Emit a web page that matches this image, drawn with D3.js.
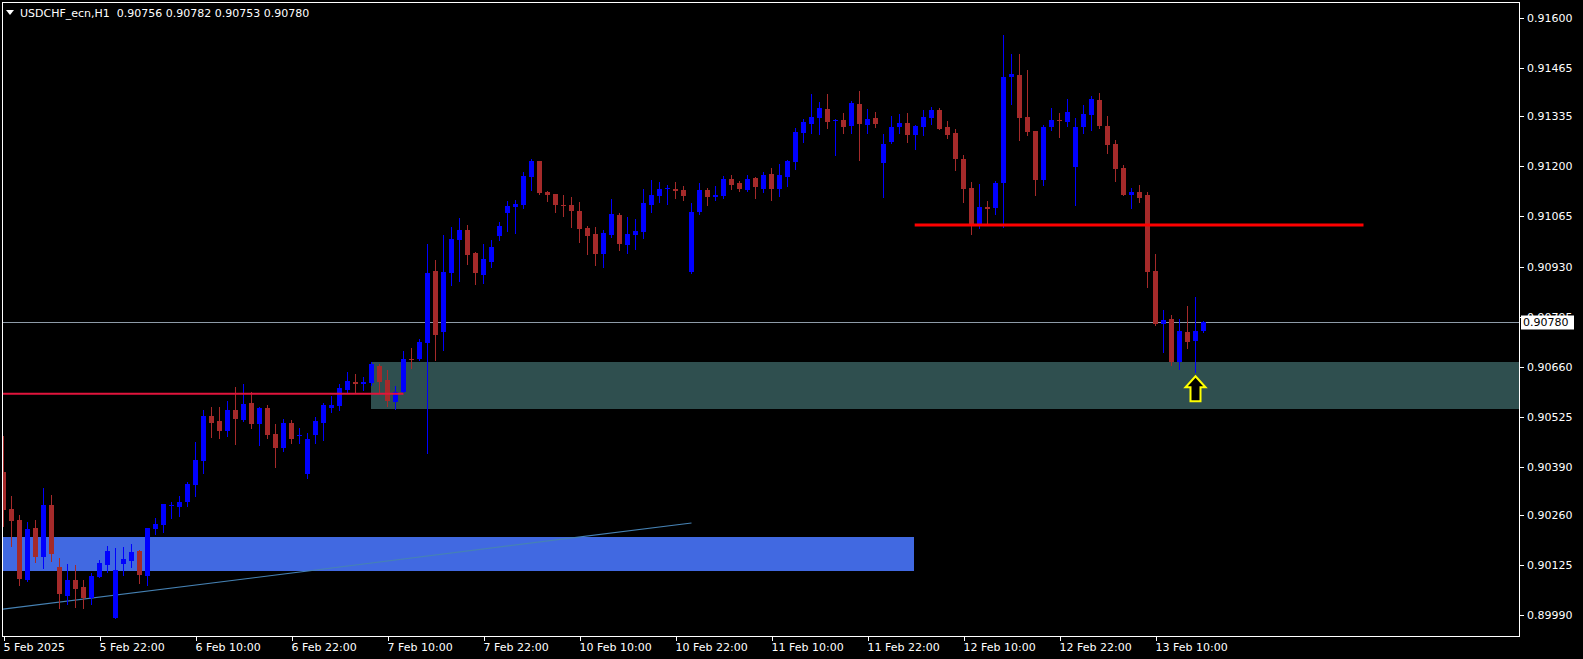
<!DOCTYPE html>
<html><head><meta charset="utf-8">
<script src="https://cdn.jsdelivr.net/npm/d3@7/dist/d3.min.js"></script>
<style>html,body{margin:0;padding:0;background:#000;overflow:hidden}</style>
</head><body><svg id="c" width="1583" height="659"></svg>
<script>
const symbol = "USDCHF_ecn";
const timeframe = "H1";
const xTickIndex = [0,12,24,36,48,60,72,84,96,108,120,132,144];
const xTickLabels = ["5 Feb 2025","5 Feb 22:00","6 Feb 10:00","6 Feb 22:00","7 Feb 10:00","7 Feb 22:00","10 Feb 10:00","10 Feb 22:00","11 Feb 10:00","11 Feb 22:00","12 Feb 10:00","12 Feb 22:00","13 Feb 10:00"];
const yTickValues = [0.91600,0.91465,0.91335,0.91200,0.91065,0.90930,0.90795,0.90660,0.90525,0.90390,0.90260,0.90125,0.89990];

const open = [0.90376,0.90276,0.90246,0.90084,0.90225,0.90147,0.90287,0.90119,0.90042,0.90084,
0.90065,0.90036,0.90093,0.90125,0.89982,0.90128,0.90136,0.90162,0.90096,0.90222,
0.90233,0.90285,0.90281,0.90295,0.90341,0.90405,0.90527,0.90513,0.90487,0.90543,
0.90517,0.90562,0.90506,0.90548,0.90478,0.90441,0.90508,0.90471,0.90370,0.90475,
0.90508,0.90549,0.90554,0.90598,0.90618,0.90613,0.90616,0.90662,0.90624,0.90565,
0.90591,0.90680,0.90679,0.90724,0.90918,0.90754,0.90911,0.91002,0.91029,0.90966,
0.90908,0.90943,0.91013,0.91075,0.91091,0.91096,0.91172,0.91215,0.91131,0.91126,
0.91096,0.91096,0.91080,0.91034,0.91018,0.90964,0.91015,0.91069,0.90988,0.91015,
0.91023,0.91096,0.91120,0.91139,0.91139,0.91136,0.90915,0.91077,0.91136,0.91118,
0.91120,0.91166,0.91155,0.91136,0.91169,0.91139,0.91180,0.91139,0.91172,0.91212,
0.91290,0.91315,0.91331,0.91355,0.91323,0.91325,0.91309,0.91369,0.91312,0.91331,
0.91209,0.91266,0.91306,0.91317,0.91285,0.91306,0.91331,0.91352,0.91306,0.91290,
0.91220,0.91142,0.91042,0.91091,0.91088,0.91155,0.91441,0.91447,0.91333,0.91296,
0.91163,0.91306,0.91325,0.91320,0.91199,0.91306,0.91339,0.91379,0.91309,0.91261,
0.91196,0.91123,0.91131,0.91123,0.90918,0.90776,0.90788,0.90673,0.90753,0.90730,
0.90756];
const high = [0.90473,0.90311,0.90260,0.90241,0.90246,0.90332,0.90314,0.90144,0.90127,0.90125,
0.90084,0.90102,0.90138,0.90176,0.90171,0.90174,0.90181,0.90165,0.90225,0.90251,
0.90289,0.90294,0.90311,0.90349,0.90457,0.90543,0.90551,0.90551,0.90567,0.90605,
0.90613,0.90591,0.90551,0.90556,0.90505,0.90519,0.90516,0.90494,0.90480,0.90523,
0.90561,0.90581,0.90613,0.90645,0.90640,0.90632,0.90673,0.90668,0.90651,0.90608,
0.90703,0.90711,0.90734,0.90991,0.90948,0.91015,0.91036,0.91061,0.91042,0.90969,
0.90991,0.91002,0.91050,0.91107,0.91110,0.91185,0.91220,0.91215,0.91134,0.91126,
0.91123,0.91118,0.91104,0.91039,0.91037,0.91029,0.91112,0.91074,0.91064,0.91058,
0.91139,0.91163,0.91158,0.91150,0.91158,0.91147,0.91101,0.91155,0.91142,0.91147,
0.91174,0.91177,0.91161,0.91177,0.91172,0.91185,0.91196,0.91207,0.91217,0.91304,
0.91328,0.91396,0.91374,0.91396,0.91328,0.91344,0.91377,0.91404,0.91355,0.91347,
0.91288,0.91336,0.91342,0.91344,0.91312,0.91352,0.91360,0.91358,0.91323,0.91301,
0.91231,0.91158,0.91153,0.91107,0.91161,0.91555,0.91503,0.91503,0.91460,0.91296,
0.91312,0.91358,0.91344,0.91382,0.91331,0.91366,0.91390,0.91398,0.91336,0.91271,
0.91204,0.91142,0.91150,0.91131,0.90964,0.90813,0.90799,0.90788,0.90824,0.90848,
0.90782];
const low = [0.90230,0.90176,0.90071,0.90082,0.90133,0.90117,0.90136,0.90009,0.90020,0.90012,
0.90009,0.90020,0.90093,0.90107,0.89982,0.90098,0.90120,0.90077,0.90072,0.90209,
0.90215,0.90252,0.90258,0.90285,0.90312,0.90374,0.90471,0.90468,0.90474,0.90452,
0.90513,0.90495,0.90449,0.90468,0.90390,0.90433,0.90455,0.90453,0.90359,0.90453,
0.90462,0.90538,0.90544,0.90592,0.90592,0.90598,0.90610,0.90590,0.90554,0.90546,
0.90591,0.90657,0.90678,0.90428,0.90679,0.90706,0.90880,0.90892,0.90938,0.90884,
0.90885,0.90930,0.91002,0.91027,0.91021,0.91089,0.91137,0.91127,0.91108,0.91077,
0.91066,0.91037,0.90996,0.90964,0.90934,0.90929,0.91010,0.90975,0.90966,0.90977,
0.91007,0.91077,0.91104,0.91099,0.91115,0.91110,0.90913,0.91072,0.91096,0.91110,
0.91115,0.91139,0.91134,0.91134,0.91115,0.91131,0.91110,0.91120,0.91147,0.91193,
0.91266,0.91290,0.91288,0.91304,0.91231,0.91290,0.91290,0.91217,0.91290,0.91306,
0.91118,0.91263,0.91290,0.91266,0.91247,0.91285,0.91315,0.91301,0.91277,0.91190,
0.91104,0.91018,0.91034,0.91042,0.91072,0.91037,0.91369,0.91271,0.91285,0.91123,
0.91150,0.91298,0.91279,0.91309,0.91096,0.91290,0.91298,0.91304,0.91236,0.91161,
0.91123,0.91089,0.91104,0.90876,0.90773,0.90700,0.90665,0.90654,0.90711,0.90646,
0.90753];
const close = [0.90273,0.90244,0.90087,0.90222,0.90147,0.90287,0.90155,0.90045,0.90084,0.90061,
0.90034,0.90096,0.90130,0.90162,0.90111,0.90141,0.90160,0.90096,0.90225,0.90235,
0.90289,0.90287,0.90295,0.90343,0.90408,0.90527,0.90509,0.90487,0.90543,0.90519,
0.90559,0.90506,0.90548,0.90476,0.90441,0.90508,0.90465,0.90475,0.90464,0.90513,
0.90556,0.90556,0.90602,0.90621,0.90613,0.90618,0.90668,0.90618,0.90567,0.90591,
0.90680,0.90676,0.90726,0.90913,0.90746,0.90915,0.91004,0.91029,0.90962,0.90911,
0.90950,0.90983,0.91039,0.91093,0.91099,0.91174,0.91215,0.91129,0.91123,0.91096,
0.91094,0.91080,0.91031,0.91012,0.90964,0.91020,0.91072,0.90991,0.91018,0.91026,
0.91101,0.91123,0.91139,0.91142,0.91134,0.91120,0.91077,0.91136,0.91118,0.91123,
0.91166,0.91150,0.91139,0.91166,0.91145,0.91177,0.91139,0.91177,0.91215,0.91293,
0.91320,0.91333,0.91358,0.91320,0.91325,0.91306,0.91371,0.91315,0.91328,0.91315,
0.91261,0.91306,0.91317,0.91285,0.91309,0.91333,0.91352,0.91301,0.91285,0.91220,
0.91139,0.91042,0.91091,0.91085,0.91155,0.91441,0.91449,0.91331,0.91293,0.91163,
0.91306,0.91325,0.91323,0.91347,0.91306,0.91342,0.91382,0.91309,0.91258,0.91193,
0.91123,0.91131,0.91116,0.90915,0.90776,0.90786,0.90673,0.90756,0.90727,0.90756,
0.90780];

// chart objects (time index, price)
const blueZone = {i0: -3, i1: 113.8, p0: 0.90200, p1: 0.90109};
const tealZone = {i0: 45.9, i1: 200, p0: 0.90672, p1: 0.90546};
const trendLine = {i0: -1, p0: 0.90003, i1: 86, p1: 0.90238};
const redLineLeft = {i0: -3, i1: 50.0, p: 0.90587};
const redLineRight = {i0: 113.9, i1: 170, p: 0.91042};
const arrowMark = {i: 149, p: 0.90646};

const svg = d3.select("#c");
const W = 1583, H = 659;
const L = 2.5, T = 2.5, R = 1519.5, B = 636.5;

svg.append("rect").attr("width", W).attr("height", H).attr("fill", "#000");

const x = d3.scaleLinear().domain([0, 150]).range([3.5, 1203.5]);
const y = d3.scaleLinear().domain([0.89990, 0.91600]).range([614.9, 18.2]);

svg.append("clipPath").attr("id", "clip").append("rect")
  .attr("x", 3).attr("y", 3).attr("width", R - 3.5).attr("height", B - 3.5);

const g = svg.append("g").attr("clip-path", "url(#clip)");

// zones
g.append("rect").attr("x", x(blueZone.i0)).attr("width", x(blueZone.i1) - x(blueZone.i0))
  .attr("y", y(blueZone.p0)).attr("height", y(blueZone.p1) - y(blueZone.p0))
  .attr("fill", "#4169E1").attr("shape-rendering", "crispEdges");
g.append("rect").attr("x", x(tealZone.i0)).attr("width", x(tealZone.i1) - x(tealZone.i0))
  .attr("y", y(tealZone.p0)).attr("height", y(tealZone.p1) - y(tealZone.p0))
  .attr("fill", "#2F4F4F").attr("shape-rendering", "crispEdges");

// trend line
g.append("line").attr("x1", x(trendLine.i0)).attr("y1", y(trendLine.p0))
  .attr("x2", x(trendLine.i1)).attr("y2", y(trendLine.p1))
  .attr("stroke", "#4682B4").attr("stroke-width", 1.2);

// current price line
g.append("line").attr("x1", 0).attr("x2", R).attr("y1", Math.round(y(close[close.length-1])) + 0.5)
  .attr("y2", Math.round(y(close[close.length-1])) + 0.5)
  .attr("stroke", "#8E9BA8").attr("stroke-width", 1);

// candles
const bars = d3.range(open.length).map(i => ({i, o: open[i], h: high[i], l: low[i], c: close[i]}));
const upCol = "#0000FF", dnCol = "#A52A2A";
const cg = g.append("g").attr("shape-rendering", "crispEdges");
cg.selectAll("line.w").data(bars).join("line").attr("class", "w")
  .attr("x1", d => x(d.i)).attr("x2", d => x(d.i))
  .attr("y1", d => Math.round(y(d.h))).attr("y2", d => Math.round(y(d.l)) + 1)
  .attr("stroke", d => d.c >= d.o ? upCol : dnCol).attr("stroke-width", 1);
cg.selectAll("rect.b").data(bars).join("rect").attr("class", "b")
  .attr("x", d => x(d.i) - 2.5).attr("width", 5)
  .attr("y", d => Math.round(y(Math.max(d.o, d.c))))
  .attr("height", d => Math.max(1, Math.round(Math.abs(y(d.o) - y(d.c)))))
  .attr("fill", d => d.c >= d.o ? upCol : dnCol);

// red lines
g.append("line").attr("x1", x(redLineLeft.i0)).attr("x2", x(redLineLeft.i1))
  .attr("y1", y(redLineLeft.p)).attr("y2", y(redLineLeft.p))
  .attr("stroke", "#E0143C").attr("stroke-width", 2);
g.append("line").attr("x1", x(redLineRight.i0)).attr("x2", x(redLineRight.i1))
  .attr("y1", y(redLineRight.p)).attr("y2", y(redLineRight.p))
  .attr("stroke", "#FF0000").attr("stroke-width", 3);

// arrow
const ax = x(arrowMark.i), ay = y(arrowMark.p) + 4.5;
g.append("path")
  .attr("d", `M${ax},${ay} L${ax+10},${ay+11} L${ax+5},${ay+11} L${ax+5},${ay+25} L${ax-5},${ay+25} L${ax-5},${ay+11} L${ax-10},${ay+11} Z`)
  .attr("fill", "#000").attr("stroke", "#FFFF00").attr("stroke-width", 2).attr("stroke-linejoin", "miter");

// frame
svg.append("rect").attr("x", L).attr("y", T).attr("width", R - L).attr("height", B - T)
  .attr("fill", "none").attr("stroke", "#fff").attr("stroke-width", 1).attr("shape-rendering", "crispEdges");

const font = "'DejaVu Sans', sans-serif";
// right axis
const ya = svg.append("g");
yTickValues.forEach(v => {
  const yy = Math.round(y(v)) + 0.5;
  ya.append("line").attr("x1", R).attr("x2", R + 4).attr("y1", yy).attr("y2", yy)
    .attr("stroke", "#fff").attr("shape-rendering", "crispEdges");
  ya.append("text").attr("x", 1527).attr("y", yy).attr("dy", "0.36em")
    .attr("fill", "#fff").attr("font-family", font).attr("font-size", 11)
    .text(d3.format(".5f")(v));
});
// current price label
const cp = close[close.length-1];
const cpy = Math.round(y(cp)) + 0.5;
ya.append("rect").attr("x", 1521).attr("y", cpy - 7).attr("width", 53).attr("height", 14)
  .attr("fill", "#fff");
ya.append("text").attr("x", 1523).attr("y", cpy).attr("dy", "0.36em").attr("fill", "#000")
  .attr("font-family", font).attr("font-size", 11).text(d3.format(".5f")(cp));

// bottom axis
const xa = svg.append("g");
xTickIndex.forEach((idx, j) => {
  const xx = Math.round(x(idx)) + 0.5;
  xa.append("line").attr("x1", xx).attr("x2", xx).attr("y1", B).attr("y2", B + 4)
    .attr("stroke", "#fff").attr("shape-rendering", "crispEdges");
  xa.append("text").attr("x", xx - 1).attr("y", 651).attr("fill", "#fff")
    .attr("font-family", font).attr("font-size", 11).text(xTickLabels[j]);
});

// title
const last = open.length - 1;
svg.append("path").attr("d", "M6,10 L14,10 L10,15 Z").attr("fill", "#fff");
svg.append("text").attr("x", 20).attr("y", 17).attr("fill", "#fff")
  .attr("font-family", font).attr("font-size", 11).attr("xml:space", "preserve")
  .text(`${symbol},${timeframe}  ${[open[last], high[last], low[last], close[last]].map(d3.format(".5f")).join(" ")}`);
</script></body></html>
